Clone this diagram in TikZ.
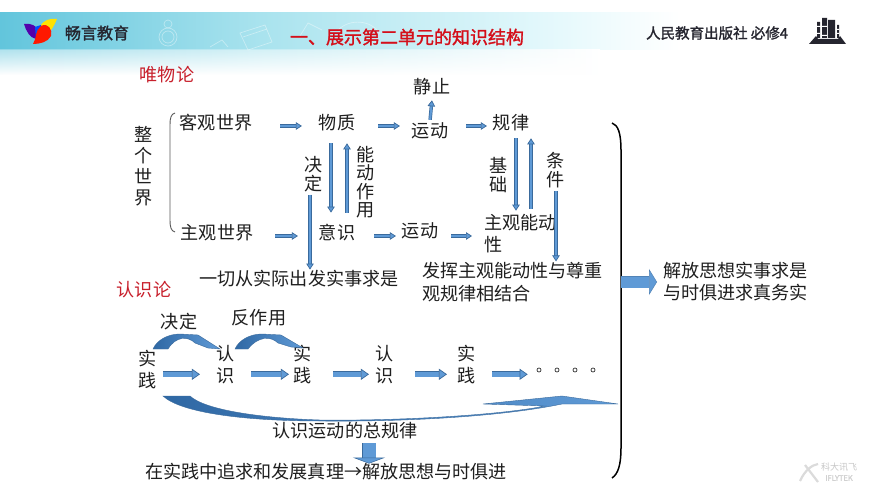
\documentclass[tikz,border=0pt]{standalone}
\usepackage{fontspec}
\setmainfont{Noto Sans CJK SC}
\newfontfamily\heavyfont[FakeBold=1.6]{Noto Sans CJK SC}
\usetikzlibrary{arrows.meta}
\definecolor{arrowedge}{HTML}{3A6A9C}
\definecolor{arrowfill}{HTML}{5F9AD6}
\definecolor{deepblue}{HTML}{2F68A4}
\definecolor{titlered}{HTML}{D40F1A}
\definecolor{notered}{HTML}{C8202C}
\definecolor{inkdark}{HTML}{25252F}
\definecolor{bandleft}{HTML}{62C5DC}
\definecolor{bandmid}{HTML}{A9E3EE}
\definecolor{bandlight}{HTML}{E6F9FC}
\tikzset{
  x=1pt,y=-1pt,
  lbl/.style={inner sep=0pt,outer sep=0pt,font=\fontsize{18.1}{21}\selectfont,text=black!88,align=center},
  lblleft/.style={lbl,align=left,anchor=west},
  tight/.style={lbl,font=\fontsize{18.1}{18.5}\selectfont},
  wide/.style={lbl,font=\fontsize{18.1}{22}\selectfont},
  rednote/.style={lbl,text=notered},
  flow/.style={line width=.7pt,draw=arrowedge,double=arrowfill,double distance=2pt,
    -{Triangle[length=6pt,width=7.5pt,fill=arrowfill,line width=.7pt]}},
  flowbig/.style={line width=.7pt,draw=arrowedge,double=arrowfill,double distance=4.5pt,
    -{Triangle[length=8pt,width=11pt,fill=arrowfill,line width=.7pt]}},
  swoosh/.style={left color=deepblue,right color=arrowfill,draw=arrowedge,line width=.4pt},
}
\begin{document}
\begin{tikzpicture}
\useasboundingbox (0,0) rectangle (870,489);
\fill[white] (0,0) rectangle (870,489);
% header band
\shade[left color=bandleft,right color=bandmid] (0,13) rectangle (260,50);
\shade[left color=bandmid,right color=bandlight] (260,13) rectangle (560,50);
\shade[left color=bandlight,right color=white] (560,13) rectangle (680,50);
\shade[left color=bandleft!70,right color=bandmid!70] (0,50) rectangle (260,76);
\shade[left color=bandmid!70,right color=white] (260,50) rectangle (600,76);
\foreach \i in {0,...,26}{
  \pgfmathsetmacro{\op}{min(1,0.30+\i*0.028)}
  \fill[white,opacity=\op] (0,50+\i) rectangle (870,51+\i);
}
% faint band decoration
\begin{scope}[draw=white,opacity=.4,line width=.7pt]
  \draw (168,37) circle (9);
  \draw (168,37) circle (6);
  \draw (168,24) circle (4);
  \draw (240,33) -- (265,25) -- (272,42) -- (248,50) -- cycle;
  \draw (243,37) -- (267,29);
  \draw (210,47) -- (222,40) -- (228,47);
  \draw (300,36) -- (308,23) -- (322,30);
  \draw (338,30) .. controls (350,18) and (372,20) .. (380,34);
\end{scope}
% logo
\fill[yellow!85!orange] (40,26) .. controls (44,20) and (50,18) .. (57,19) .. controls (54,26) and (51,31) .. (48,34) -- cycle;
\fill[violet!65!blue] (24,24) .. controls (32,23) and (36,26) .. (38,30) -- (36,39) .. controls (30,38) and (26,31) .. (24,24) -- cycle;
\fill[blue!70!cyan] (35,27) -- (41,25) -- (42,34) -- (36,39) -- cycle;
\fill[red!80!orange] (33,44) .. controls (37,38) and (35,30) .. (41,26) .. controls (48,22) and (53,30) .. (51,36) .. controls (48,42) and (40,44) .. (33,44) -- cycle;
% header text
\node[lbl,font=\fontsize{16}{18}\selectfont\heavyfont,text=inkdark] (brand) at (97,33) {畅言教育};
\node[lbl,font=\fontsize{18}{20}\selectfont\heavyfont,text=titlered] (title) at (407,37) {一、展示第二单元的知识结构};
\node[lbl,font=\fontsize{14.5}{18}\selectfont\heavyfont,text=inkdark] (press) at (717,33) {人民教育出版社 必修4};
% book icon
\fill[inkdark] (809,44) -- (816,36) -- (818,39) -- (838,39) -- (840,36) -- (846,44) -- cycle;
\fill[inkdark] (817,22) rectangle (820,38) (822,18) rectangle (827,38) (828,20) rectangle (835,38) (837,25) rectangle (839,38);
\fill[white] (817,26) rectangle (827,27) (822,35) rectangle (827,36) (817,33) rectangle (820,34) (837,29) rectangle (839,30) (837,33) rectangle (839,34);
% watermark
\draw[black!14,line width=2.2pt] (800,481) .. controls (805,470) and (812,465) .. (818,464) (805,465) -- (818,482);
\node[lbl,font=\fontsize{9}{10}\selectfont,text=black!22] (wmcn) at (839,467) {科大讯飞};
\node[lbl,font=\fontsize{7.5}{9}\selectfont\heavyfont,text=black!18] (wmen) at (839,478) {IFLYTEK};

% upper part: texts
\node[rednote] (weiwu) at (167,75) {唯物论};
\node[rednote] (renshilun) at (144,290) {认识论};
\node[lbl] (zheng) at (144,166) {整\\个\\世\\界};
\node[lbl] (kg) at (216,123) {客观世界};
\node[lbl] (wz) at (337,123) {物质};
\node[lbl] (yd) at (430,131) {运动};
\node[lbl] (jz) at (432,87) {静止};
\node[lbl] (gl) at (511,123) {规律};
\node[lbl] (zg) at (217,233) {主观世界};
\node[lbl] (ys) at (337,233) {意识};
\node[lbl] (yd2) at (420,231) {运动};
\node[lblleft,font=\fontsize{18.1}{22}\selectfont] (zgn) at (484,234) {主观能动\\性};
\node[tight] (jd) at (314,174) {决\\定};
\node[tight] (ndzy) at (366,182) {能\\动\\作\\用};
\node[tight,font=\fontsize{18.1}{19.5}\selectfont] (jc) at (499,175) {基\\础};
\node[tight,font=\fontsize{18.1}{19.5}\selectfont] (tj) at (556,170) {条\\件};
\node[lbl] (yiqie) at (299,279) {一切从实际出发实事求是};
\node[lblleft,font=\fontsize{18.1}{22.5}\selectfont] (fahui) at (422,282) {发挥主观能动性与尊重\\观规律相结合};
\node[lblleft,font=\fontsize{18.1}{22}\selectfont] (jiefang) at (663,282) {解放思想实事求是\\与时俱进求真务实};

% upper part: braces
\draw[black!65,line width=.9pt] (175,113) .. controls (171,114) and (170,118) .. (170,125) -- (170,220) .. controls (170,227) and (171,231) .. (175,232);
\draw[black,line width=1.5pt] (612,123) .. controls (618,125) and (621,133) .. (621,150) -- (621,448) .. controls (621,465) and (618,474) .. (612,478);
\coordinate (brk) at (621,282);

% upper part: arrows
\draw[flow,shorten <=28pt,shorten >=17pt] ([yshift=-3pt]kg.east) -- ([yshift=-3pt]wz.west);
\draw[flow,shorten <=23pt,shorten >=12pt] ([yshift=-3pt]wz.east) -- ([yshift=-3pt]wz.east -| yd.west);
\draw[flow,shorten <=1pt,shorten >=1pt] ([yshift=2pt]yd.north) -- ([yshift=-4pt]jz.south);
\draw[flow,shorten <=18pt,shorten >=6pt] ([yshift=-3pt]gl.east -| yd.east) -- ([yshift=-3pt]gl.west);
\draw[flow,shorten <=22pt,shorten >=21pt] ([yshift=-3pt]zg.east) -- ([yshift=-3pt]ys.west);
\draw[flow,shorten <=19pt,shorten >=6pt] ([yshift=-3pt]ys.east) -- ([yshift=-3pt]ys.east -| yd2.west);
\draw[flow,shorten <=13pt,shorten >=12pt] ([yshift=-3pt]ys.east -| yd2.east) -- ([yshift=-3pt]ys.east -| zgn.west);
\draw[flow,shorten <=12pt,shorten >=12pt] ([xshift=-6pt]wz.south) -- ([xshift=-6pt]ys.north);
\draw[flow,shorten <=12pt,shorten >=12pt] ([xshift=10pt]ys.north) -- ([xshift=10pt]wz.south);
\draw[flow,shorten <=3pt,shorten >=1pt] ([xshift=-4pt]jd.south) -- ([xshift=-4pt]yiqie.north -| jd.south);
\draw[flow,shorten <=7pt,shorten >=4pt] ([xshift=5pt]gl.south) -- ([xshift=5pt]gl.south |- zgn.north);
\draw[flow,shorten <=6pt,shorten >=7pt] ([xshift=20pt]gl.south |- zgn.north) -- ([xshift=20pt]gl.south);
\draw[flow,shorten <=3pt,shorten >=1pt] (tj.south) -- (tj.south |- fahui.north);
\draw[line width=.7pt,draw=arrowfill!85!black,double=arrowfill,double distance=11pt,
  -{Triangle[length=8pt,width=26pt,fill=arrowfill,line width=.5pt]}] (brk) -- ([xshift=-6pt]jiefang.west);

% lower part: chain
\node[wide] (sj1) at (148,370) {实\\践};
\node[wide] (rs1) at (226,365) {认\\识};
\node[wide] (sj2) at (303,365) {实\\践};
\node[wide] (rs2) at (385,365) {认\\识};
\node[wide] (sj3) at (467,365) {实\\践};
\node[lbl] (jd2) at (179,322) {决定};
\node[lbl] (fzy) at (259,318) {反作用};
\node[lbl] (zong) at (345,431) {认识运动的总规律};
\node[lbl] (zhuiqiu) at (326,472) {在实践中追求和发展真理→解放思想与时俱进};
\node[draw=black!80,circle,inner sep=0pt,minimum size=4pt,line width=.7pt] (d1) at (539,370) {};
\node[draw=black!80,circle,inner sep=0pt,minimum size=4pt,line width=.7pt] (d2) at (557,370) {};
\node[draw=black!80,circle,inner sep=0pt,minimum size=4pt,line width=.7pt] (d3) at (575,370) {};
\node[draw=black!80,circle,inner sep=0pt,minimum size=4pt,line width=.7pt] (d4) at (593,370) {};

\draw[flowbig,shorten <=6pt,shorten >=17pt] ([yshift=10pt]rs1.south -| sj1.east) -- ([yshift=10pt]rs1.south -| rs1.west);
\draw[flowbig,shorten <=16pt,shorten >=5pt] ([yshift=10pt]rs1.south -| rs1.east) -- ([yshift=10pt]rs1.south -| sj2.west);
\draw[flowbig,shorten <=21pt,shorten >=7pt] ([yshift=10pt]rs1.south -| sj2.east) -- ([yshift=10pt]rs1.south -| rs2.west);
\draw[flowbig,shorten <=21pt,shorten >=11pt] ([yshift=10pt]rs1.south -| rs2.east) -- ([yshift=10pt]rs1.south -| sj3.west);
\draw[flowbig,shorten <=16pt,shorten >=9pt] ([yshift=10pt]rs1.south -| sj3.east) -- ([yshift=10pt]rs1.south -| d1.west);

% curved arrows
\shade[swoosh] (153,349) .. controls (157,340) and (168,334) .. (180,334)
  -- (198,335) -- (220,349) -- (208,348) -- (195,343)
  .. controls (188,336) and (176,336) .. (168,349) -- cycle;
\shade[swoosh] (235,349) .. controls (239,340) and (250,334) .. (262,334)
  -- (281,335) -- (303,348) -- (291,347) -- (278,343)
  .. controls (271,336) and (258,336) .. (248,349) -- cycle;
% long swoosh
\shade[swoosh] (163,396) -- (190,396) .. controls (205,410) and (260,418) .. (320,420)
  .. controls (400,421) and (500,415) .. (545,406) -- (483,404) -- (562,396) -- (618,404) -- (562,404)
  .. controls (510,415) and (420,422) .. (320,421)
  .. controls (240,421) and (180,412) .. (163,396) -- cycle;
% down block arrow
\draw[line width=.5pt,draw=arrowedge,double=arrowfill,double distance=13pt,
  -{Triangle[length=6pt,width=32pt,fill=arrowfill,line width=.5pt]},shorten <=4pt]
  ([xshift=24pt]zong.south) -- ([xshift=43pt]zhuiqiu.north);
\end{tikzpicture}
\end{document}
